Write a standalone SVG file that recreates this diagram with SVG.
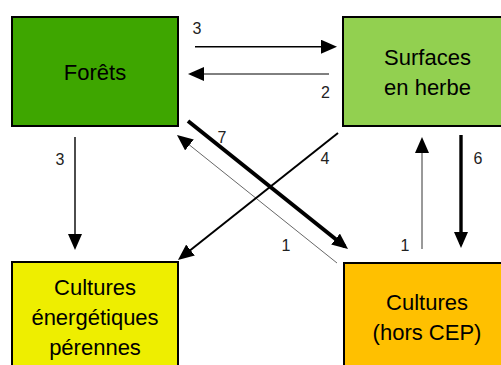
<svg xmlns="http://www.w3.org/2000/svg" width="501" height="365" viewBox="0 0 501 365">
<style>
.box{stroke:#000;stroke-width:2}
.t{font-family:"Liberation Sans",Arial,sans-serif;font-size:22px;fill:#000;text-anchor:middle}
.n{font-family:"Liberation Sans",Arial,sans-serif;font-size:16px;fill:#222;text-anchor:middle}
.c{stroke:#000;fill:none;marker-end:url(#ah)}
</style>
<defs>
<marker id="ah" markerUnits="userSpaceOnUse" markerWidth="16" markerHeight="14" refX="12" refY="7" orient="auto">
<path d="M0,0 L16,7 L0,14 z" fill="#000"/>
</marker>
</defs>
<rect width="501" height="365" fill="#fff"/>
<g id="forets">
<rect class="box" x="12" y="17" width="166" height="109" fill="#3ea600"/>
<text class="t" x="95" y="80">Forêts</text>
</g>
<g id="surfaces">
<rect class="box" x="343" y="17" width="170" height="109" fill="#92d050"/>
<text class="t" x="427.5" y="65">Surfaces</text>
<text class="t" x="427.5" y="95">en herbe</text>
</g>
<g id="cep">
<rect class="box" x="12" y="262" width="166" height="110" fill="#eeee00"/>
<text class="t" x="95" y="295">Cultures</text>
<text class="t" x="95" y="325">énergétiques</text>
<text class="t" x="95" y="355">pérennes</text>
</g>
<g id="cultures">
<rect class="box" x="344" y="263" width="170" height="110" fill="#ffc000"/>
<text class="t" x="427" y="310">Cultures</text>
<text class="t" x="427" y="340">(hors CEP)</text>
</g>
<g id="connectors">
<line class="c" x1="195" y1="46.7" x2="333" y2="46.7" stroke-width="1.6"/>
<line class="c" x1="329" y1="74" x2="192" y2="74" stroke-width="1"/>
<line class="c" x1="75" y1="137" x2="75" y2="246" stroke-width="1.4"/>
<line class="c" x1="338" y1="133" x2="181.1" y2="257.5" stroke-width="2"/>
<line class="c" x1="188" y1="121" x2="344.9" y2="246.5" stroke-width="4"/>
<line class="c" x1="337" y1="263" x2="180.1" y2="137.5" stroke-width="0.6"/>
<line class="c" x1="422" y1="249" x2="422" y2="141" stroke-width="0.8"/>
<line class="c" x1="461" y1="135" x2="461" y2="244" stroke-width="3.4"/>
<text class="n" x="197" y="34">3</text>
<text class="n" x="325.5" y="98">2</text>
<text class="n" x="60" y="165">3</text>
<text class="n" x="325" y="164">4</text>
<text class="n" x="222" y="143">7</text>
<text class="n" x="286" y="251">1</text>
<text class="n" x="405" y="251">1</text>
<text class="n" x="478" y="164">6</text>
</g>
</svg>
